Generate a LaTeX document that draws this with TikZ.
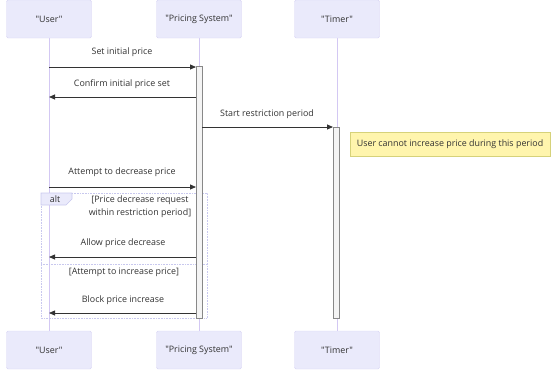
\documentclass[tikz,border=0pt]{standalone}
\usepackage{fontspec}
\setmainfont{Open Sans}[Ligatures=TeXOff]
\usetikzlibrary{arrows.meta}
\definecolor{actorfill}{HTML}{EAEAFB}
\definecolor{actorline}{HTML}{D8D4F4}
\definecolor{lifecol}{HTML}{D3C8F3}
\definecolor{txt}{HTML}{333333}
\definecolor{msgcol}{HTML}{333333}
\definecolor{actfill}{HTML}{F4F4F4}
\definecolor{actdraw}{HTML}{888888}
\definecolor{notefill}{HTML}{FFF5AD}
\definecolor{notedraw}{HTML}{D6D27A}
\definecolor{altcol}{HTML}{C8C8EE}
\tikzset{
  actorbox/.style={draw=actorline,fill=actorfill,rounded corners=1.5pt,minimum width=85pt,minimum height=38pt,inner sep=0pt,font=\fontsize{8.9}{10.5}\selectfont,text=txt},
  lifeline/.style={draw=lifecol,line width=0.8pt},
  actbar/.style={draw=actdraw,fill=actfill,line width=0.5pt},
  msg/.style={draw=msgcol,line width=0.8pt,-{Triangle[length=6pt,width=5pt]}},
  msgtxt/.style={font=\fontsize{8.9}{12.5}\selectfont,text=txt,inner sep=0pt},
  notebox/.style={draw=notedraw,fill=notefill,line width=0.5pt},
  altframe/.style={draw=altcol,line width=0.6pt,densely dotted},
}
\begin{document}
\begin{tikzpicture}[x=1pt,y=-1pt]
\useasboundingbox (0,0) rectangle (551,372);
% lifelines
\coordinate (u1) at (49,38); \coordinate (u2) at (49,331);
\coordinate (p1) at (199,38); \coordinate (p2) at (199,331);
\coordinate (t1) at (337,38); \coordinate (t2) at (337,331);
\draw[lifeline] (u1) -- (u2);
\draw[lifeline] (p1) -- (p2);
\draw[lifeline] (t1) -- (t2);
% actors
\node[actorbox] (userT) at (49,19) {"User"};
\node[actorbox] (pricT) at (199,19) {"Pricing System"};
\node[actorbox] (timT) at (337,19) {"Timer"};
\node[actorbox] (userB) at (49,350) {"User"};
\node[actorbox] (pricB) at (199,350) {"Pricing System"};
\node[actorbox] (timB) at (337,350) {"Timer"};
% alt frame
\draw[altframe] (41,193) rectangle (207,318);
\draw[altframe] (41,264) -- (207,264);
\draw[draw=altcol,fill=actorfill,line width=0.6pt] (41,193) -- (72,193) -- (72,199) -- (66,205) -- (41,205) -- cycle;
\node[msgtxt] (altlbl) at (55,199) {alt};
% activations
\draw[actbar] (196,66) rectangle (202,318);
\draw[actbar] (333,127) rectangle (339,318);
% messages
\node[msgtxt] (m1) at (122,52) {Set initial price};
\draw[msg] (49,67) -- (196,67);
\node[msgtxt] (m2) at (122,84) {Confirm initial price set};
\draw[msg] (196,97) -- (49,97);
\node[msgtxt] (m3) at (267,114) {Start restriction period};
\draw[msg] (202,127) -- (333,127);
\node[notebox,minimum width=200pt,minimum height=24pt,inner sep=0pt,font=\fontsize{8.9}{10.5}\selectfont,text=txt] (note) at (450,144) {User cannot increase price during this period};
\node[msgtxt] (m4) at (122,172) {Attempt to decrease price};
\draw[msg] (49,187) -- (196,187);
\node[msgtxt,align=center] (g1) at (140,206.5) {[Price decrease request\\within restriction period]};
\node[msgtxt] (m5) at (123,243) {Allow price decrease};
\draw[msg] (196,257) -- (49,257);
\node[msgtxt] (g2) at (124,272) {[Attempt to increase price]};
\node[msgtxt] (m6) at (123,300) {Block price increase};
\draw[msg] (196,313) -- (49,313);
\end{tikzpicture}
\end{document}
